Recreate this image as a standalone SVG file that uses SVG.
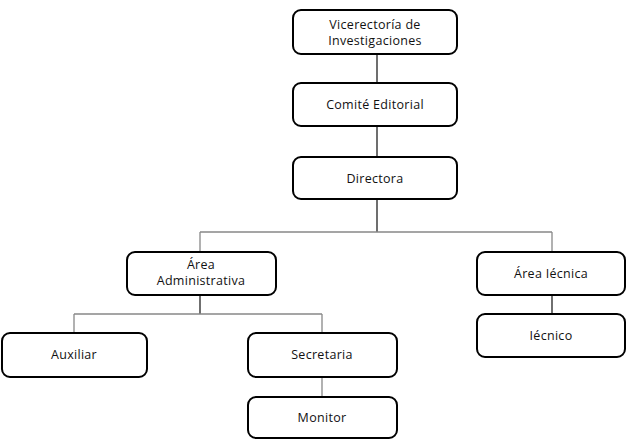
<svg xmlns="http://www.w3.org/2000/svg" width="635" height="444" viewBox="0 0 635 444">
<style>
.box{fill:#fff;stroke:#000;stroke-width:2}
.t{font-family:"Open Sans","Liberation Sans",Arial,sans-serif;font-size:12.5px;fill:#111;text-anchor:middle;letter-spacing:0.3px}
.dk{stroke:#222;stroke-width:1.3;fill:none}
.lt{stroke:#888;stroke-width:1.3;fill:none}
</style>
<rect width="635" height="444" fill="#fff"/>
<g id="connectors">
<path class="dk" d="M377 54V83M377 126V157M377 199V232"/>
<path class="lt" d="M200 232H552M200 232V252M552 232V252"/>
<path class="dk" d="M200 295V314"/>
<path class="lt" d="M74 314H322M74 314V333M322 314V333"/>
<path class="lt" d="M322 377V397"/>
<path class="dk" d="M552 295V314"/>
</g>
<g id="vicerectoria"><rect class="box" x="293" y="10" width="164" height="44" rx="8"/><text class="t" x="375" y="29">Vicerectoría de</text><text class="t" x="375" y="45">Investigaciones</text></g>
<g id="comite"><rect class="box" x="293" y="83" width="164" height="43" rx="8"/><text class="t" x="375" y="109">Comité Editorial</text></g>
<g id="directora"><rect class="box" x="293" y="157" width="164" height="42" rx="8"/><text class="t" x="375" y="183">Directora</text></g>
<g id="area-admin"><rect class="box" x="127" y="252" width="149" height="43" rx="8"/><text class="t" x="201" y="269">Área</text><text class="t" x="201" y="285">Administrativa</text></g>
<g id="area-tecnica"><rect class="box" x="477" y="252" width="148" height="43" rx="8"/><text class="t" x="551" y="278">Área Iécnica</text></g>
<g id="tecnico"><rect class="box" x="477" y="314" width="148" height="43" rx="8"/><text class="t" x="551" y="340">Iécnico</text></g>
<g id="auxiliar"><rect class="box" x="2" y="333" width="145" height="44" rx="8"/><text class="t" x="74" y="359">Auxiliar</text></g>
<g id="secretaria"><rect class="box" x="248" y="333" width="149" height="44" rx="8"/><text class="t" x="322" y="359">Secretaria</text></g>
<g id="monitor"><rect class="box" x="248" y="397" width="149" height="41" rx="8"/><text class="t" x="322" y="422">Monitor</text></g>
</svg>
